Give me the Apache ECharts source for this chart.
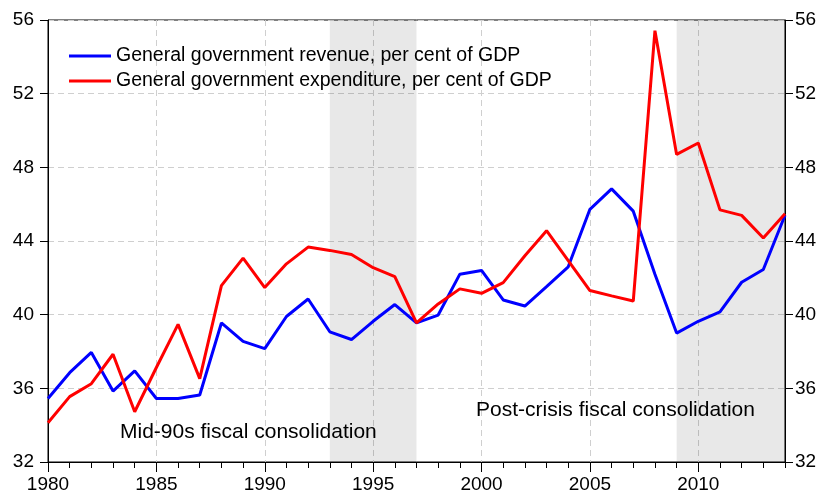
<!DOCTYPE html>
<html>
<head>
<meta charset="utf-8">
<script src="https://cdn.jsdelivr.net/npm/echarts@6/dist/echarts.min.js"></script>
<style>
  html, body { margin: 0; padding: 0; background: #fff; }
  #chart { width: 825px; height: 495px; }
</style>
</head>
<body>
<div id="chart"></div>
<script>
const years = [
  1980, 1981, 1982, 1983, 1984, 1985, 1986, 1987, 1988, 1989,
  1990, 1991, 1992, 1993, 1994, 1995, 1996, 1997, 1998, 1999,
  2000, 2001, 2002, 2003, 2004, 2005, 2006, 2007, 2008, 2009,
  2010, 2011, 2012, 2013, 2014
];
const revenue = [
  35.45, 36.85, 37.95, 35.85, 36.95, 35.45, 35.45, 35.64, 39.55, 38.55,
  38.16, 39.9, 40.85, 39.07, 38.65, 39.64, 40.55, 39.55, 39.98, 42.2,
  42.4, 40.8, 40.47, 41.52, 42.6, 45.72, 46.83, 45.62, 42.2, 39.0,
  39.64, 40.15, 41.76, 42.45, 45.4
];
const expenditure = [
  34.13, 35.55, 36.25, 37.85, 34.73, 37.13, 39.47, 36.53, 41.58, 43.07,
  41.47, 42.76, 43.67, 43.49, 43.27, 42.55, 42.07, 39.55, 40.58, 41.4,
  41.16, 41.74, 43.2, 44.56, 42.93, 41.31, 41.02, 40.74, 55.42, 48.7,
  49.32, 45.69, 45.39, 44.16, 45.48
];
const seriesNames = [
  'General government revenue, per cent of GDP',
  'General government expenditure, per cent of GDP'
];
const shadedPeriods = [[1993, 1997], [2009, 2014]];
const periodLabels = ['Mid-90s fiscal consolidation', 'Post-crisis fiscal consolidation'];
const yTicks = { min: 32, max: 56, step: 4 };

const font = 'Arial, "Liberation Sans", sans-serif';
const pairs = vals => years.map((y, i) => [y, vals[i]]);

const yAxisBase = {
  type: 'value',
  min: yTicks.min, max: yTicks.max, interval: yTicks.step,
  axisLine: { show: true, lineStyle: { color: '#000' } },
  axisTick: { show: true, length: 8, lineStyle: { color: '#000' } },
  axisLabel: { color: '#000', fontSize: 19, fontFamily: font }
};

const chart = echarts.init(document.getElementById('chart'));
chart.setOption({
  animation: false,
  backgroundColor: '#fff',
  grid: {
    left: 48, right: 40, top: 20, bottom: 33,
    show: true, borderColor: '#000', borderWidth: 1
  },
  legend: {
    left: 64, top: 41, orient: 'vertical', itemGap: 5,
    icon: 'rect', itemWidth: 42, itemHeight: 3,
    textStyle: { color: '#000', fontSize: 19.5, fontFamily: font },
    data: seriesNames
  },
  xAxis: [
    {
      type: 'value', position: 'bottom',
      min: years[0], max: years[years.length - 1], interval: 1,
      axisLine: { show: true, lineStyle: { color: '#000' } },
      axisTick: { show: true, length: 6, lineStyle: { color: '#000' } },
      axisLabel: { show: false },
      splitLine: { show: false }
    },
    {
      type: 'value', position: 'bottom',
      min: years[0], max: years[years.length - 1], interval: 5,
      axisLine: { show: false },
      axisTick: { show: true, length: 10, lineStyle: { color: '#000' } },
      axisLabel: {
        color: '#000', fontSize: 19, fontFamily: font, margin: 13,
        showMaxLabel: false, formatter: v => String(v)
      },
      splitLine: { show: true, lineStyle: { color: '#cfcfcf', type: [6, 4] } }
    }
  ],
  yAxis: [
    Object.assign({}, yAxisBase, {
      position: 'left',
      axisLabel: Object.assign({}, yAxisBase.axisLabel, { margin: 14 }),
      splitLine: { show: true, lineStyle: { color: '#cfcfcf', type: [6, 4] } }
    }),
    Object.assign({}, yAxisBase, {
      position: 'right',
      axisLabel: Object.assign({}, yAxisBase.axisLabel, { margin: 10 }),
      splitLine: { show: false }
    })
  ],
  series: [
    {
      type: 'line', xAxisIndex: 1, yAxisIndex: 0, data: [], silent: true, z: 1,
      markArea: {
        silent: true,
        itemStyle: { color: 'rgba(0,0,0,0.09)' },
        data: shadedPeriods.map(p => [{ xAxis: p[0] }, { xAxis: p[1] }])
      }
    },
    {
      name: seriesNames[0], type: 'line', xAxisIndex: 1, yAxisIndex: 0, z: 3,
      data: pairs(revenue), showSymbol: false, color: '#0000ff',
      lineStyle: { width: 3, color: '#0000ff' }
    },
    {
      name: seriesNames[1], type: 'line', xAxisIndex: 1, yAxisIndex: 0, z: 4,
      data: pairs(expenditure), showSymbol: false, color: '#ff0000',
      lineStyle: { width: 3, color: '#ff0000' }
    }
  ],
  graphic: [
    {
      type: 'text', left: 120, top: 422, z: 10,
      style: { text: periodLabels[0], fill: '#000', fontSize: 21, fontFamily: font }
    },
    {
      type: 'text', left: 476, top: 400, z: 10,
      style: { text: periodLabels[1], fill: '#000', fontSize: 21, fontFamily: font }
    }
  ]
});
</script>
</body>
</html>
